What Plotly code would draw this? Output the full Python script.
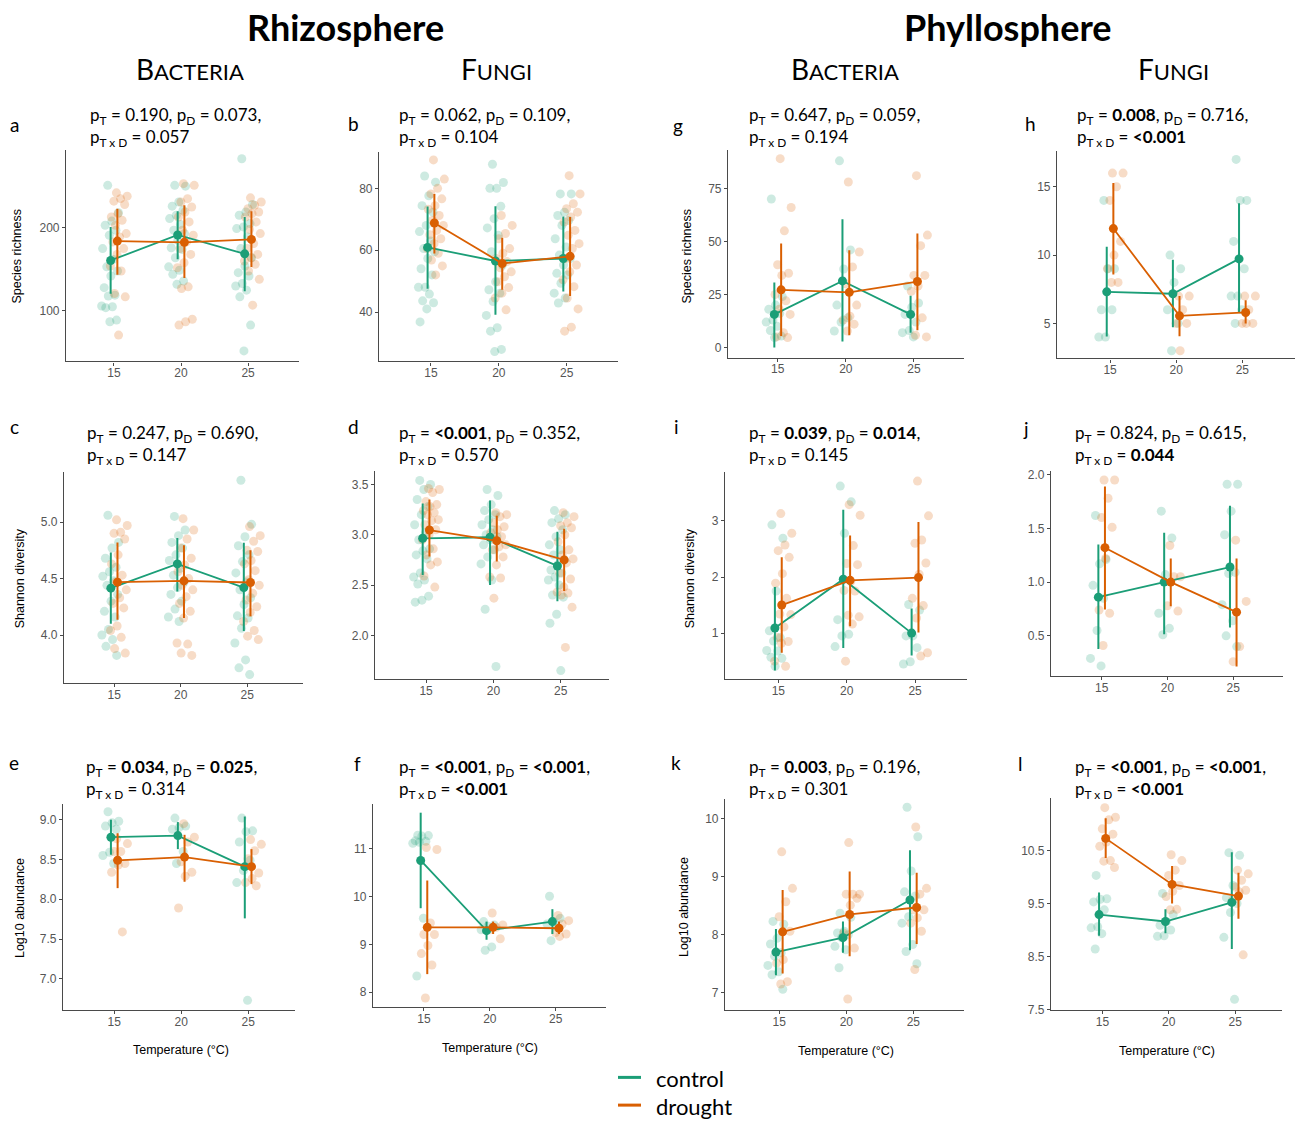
import plotly.graph_objects as go

GREEN = "#1b9e77"
ORANGE = "#d95f02"
TEMPS = [15, 20, 25]

# ---------------- Panel a: Rhizosphere bacteria, species richness
A_CTRL = [[251, 218, 208, 203, 197, 191, 175, 162, 153, 148, 142, 128, 119, 118, 106, 105, 104, 89, 87],
          [251, 250, 231, 226, 221, 215, 211, 204, 197, 193, 185, 176, 174, 164, 153, 149, 144, 136, 132],
          [283, 228, 219, 215, 205, 201, 199, 189, 175, 164, 154, 146, 142, 133, 130, 125, 117, 83, 52]]
A_DRT = [[242, 238, 235, 232, 228, 217, 213, 209, 203, 193, 189, 183, 175, 168, 154, 148, 121, 117, 71],
         [253, 251, 235, 231, 225, 219, 213, 207, 197, 191, 183, 175, 168, 158, 152, 129, 127, 90, 87, 83],
         [236, 231, 227, 223, 219, 217, 213, 207, 198, 193, 181, 175, 168, 164, 160, 156, 148, 138, 107]]
A_CTRL_MEAN = [160.7, 191.3, 168.7]
A_CTRL_LO = [120.6, 162.3, 123.8]
A_CTRL_HI = [201.0, 219.8, 213.0]
A_DRT_MEAN = [184.0, 182.5, 186.0]
A_DRT_LO = [143.6, 139.7, 152.8]
A_DRT_HI = [223.0, 227.0, 219.8]

# ---------------- Panel b: Rhizosphere fungi, species richness
B_CTRL = [[84, 82, 77.6, 74.4, 72.3, 68, 66, 63, 60.5, 59.5, 57.3, 54, 52, 48, 48, 45.8, 43.6, 43, 41, 36.8],
          [87.8, 81.9, 80, 80, 74.2, 70.2, 67.2, 64.8, 59.5, 55.2, 49.8, 47.2, 46.1, 43.4, 38.9, 34.9, 33.8, 27.9, 27.2],
          [78.2, 78.2, 72.3, 71.2, 69.6, 68, 63.7, 61, 58.4, 57.3, 55.2, 52.5, 52, 49.3, 46.1, 44.5, 42.9]]
B_DRT = [[89.2, 83, 80, 78.2, 76.6, 74.4, 73.2, 71.2, 69.6, 68, 66.4, 65, 63.7, 62.1, 60.5, 59, 56.8, 54.9, 52],
         [71.2, 68, 65.4, 63.7, 60.5, 59, 57.3, 56.3, 54.3, 53, 51.4, 49.8, 47.9, 46.1, 44.5, 40.7],
         [84.1, 78.2, 75, 73.4, 72.3, 70.7, 69.1, 66.4, 64.8, 62.1, 60.5, 57.3, 55.2, 53, 50.4, 48.2, 44.5, 41, 35.1, 33.8]]
B_CTRL_MEAN = [60.9, 56.5, 57.3]
B_CTRL_LO = [47.5, 39.1, 46.6]
B_CTRL_HI = [74.1, 74.2, 70.9]
B_DRT_MEAN = [68.8, 55.7, 58.0]
B_DRT_LO = [58.9, 47.2, 45.2]
B_DRT_HI = [78.2, 64.0, 70.7]

# ---------------- Panel g: Phyllosphere bacteria, species richness
G_CTRL = [[70, 24, 20, 18, 16, 13, 12, 10, 8, 5.4, 4.7],
          [88, 46, 37, 20, 14, 12, 7.8],
          [29, 21, 19, 15.6, 12, 8, 7, 5]]
G_DRT = [[89, 66, 55, 39, 35, 34, 25, 22, 18, 15.6, 7, 5, 4.7],
         [78, 45, 38, 30, 20, 14.8, 13, 11, 7.8],
         [81, 53, 48, 34, 34, 29, 26.5, 14, 5.8, 5]]
G_CTRL_MEAN = [15.6, 31.4, 15.6]
G_CTRL_LO = [0.0, 2.8, 7.0]
G_CTRL_HI = [30.6, 60.4, 24.4]
G_DRT_MEAN = [27.2, 26.0, 31.1]
G_DRT_LO = [5.4, 5.8, 8.1]
G_DRT_HI = [49.0, 45.9, 53.7]

# ---------------- Panel h: Phyllosphere fungi, species richness
H_CTRL = [[14, 9, 9, 6, 6, 4, 4],
          [10, 9, 8, 6, 5, 3],
          [17, 14, 14, 11, 9, 7, 7, 6, 5]]
H_DRT = [[16, 16, 15, 14, 11, 10, 9, 8, 8],
         [7, 7, 6, 5, 5, 3],
         [7, 7, 6, 5, 5, 5]]
H_CTRL_MEAN = [7.31, 7.17, 9.72]
H_CTRL_LO = [4.04, 4.71, 5.8]
H_CTRL_HI = [10.6, 9.65, 13.8]
H_DRT_MEAN = [11.94, 5.55, 5.8]
H_DRT_LO = [8.57, 4.06, 5.0]
H_DRT_HI = [15.27, 7.0, 6.7]

# ---------------- Panel c: Rhizosphere bacteria, Shannon diversity
C_CTRL = [[5.06, 4.82, 4.77, 4.68, 4.6, 4.56, 4.52, 4.48, 4.44, 4.36, 4.3, 4.21, 4.16, 4.05, 4.0, 3.96, 3.9, 3.82],
          [5.05, 4.93, 4.88, 4.82, 4.77, 4.71, 4.66, 4.59, 4.53, 4.47, 4.42, 4.36, 4.3, 4.23, 4.16, 4.12],
          [5.37, 4.98, 4.87, 4.79, 4.71, 4.65, 4.55, 4.47, 4.4, 4.33, 4.27, 4.17, 4.15, 4.06, 3.93, 3.78, 3.71, 3.65]]
C_DRT = [[5.02, 4.97, 4.91, 4.9, 4.85, 4.71, 4.63, 4.53, 4.47, 4.4, 4.33, 4.28, 4.24, 4.08, 4.04, 3.98, 3.88, 3.84],
         [5.03, 4.93, 4.85, 4.77, 4.68, 4.62, 4.56, 4.5, 4.44, 4.4, 4.34, 4.28, 4.21, 4.15, 3.93, 3.92, 3.84, 3.82],
         [4.96, 4.88, 4.83, 4.75, 4.74, 4.66, 4.63, 4.57, 4.49, 4.44, 4.37, 4.31, 4.25, 4.2, 4.12, 4.04, 3.99, 3.96]]
C_CTRL_MEAN = [4.415, 4.63, 4.42]
C_CTRL_LO = [4.10, 4.386, 4.035]
C_CTRL_HI = [4.73, 4.86, 4.816]
C_DRT_MEAN = [4.468, 4.48, 4.465]
C_DRT_LO = [4.135, 4.15, 4.167]
C_DRT_HI = [4.82, 4.795, 4.75]

# ---------------- Panel d: Rhizosphere fungi, Shannon diversity
D_CTRL = [[3.54, 3.5, 3.45, 3.35, 3.28, 3.2, 3.1, 3.02, 2.95, 2.86, 2.84, 2.8, 2.76, 2.62, 2.58, 2.55, 2.51, 2.39, 2.35, 2.33],
          [3.45, 3.39, 3.3, 3.24, 3.2, 3.15, 3.1, 3.05, 3.0, 2.98, 2.95, 2.9, 2.85, 2.78, 2.71, 2.55, 2.26, 1.69],
          [3.24, 3.2, 3.16, 3.12, 3.05, 2.98, 2.9, 2.85, 2.8, 2.75, 2.7, 2.65, 2.62, 2.58, 2.55, 2.5, 2.4, 2.38, 2.21, 2.12, 1.65]]
D_DRT = [[3.46, 3.45, 3.42, 3.33, 3.3, 3.28, 3.24, 3.22, 3.2, 3.15, 3.14, 3.1, 3.05, 3.0, 2.95, 2.86, 2.8, 2.73, 2.7, 2.59, 2.48],
         [3.22, 3.2, 3.18, 3.12, 3.08, 3.05, 3.02, 2.98, 2.95, 2.9, 2.88, 2.85, 2.78, 2.7, 2.58, 2.57, 2.37],
         [3.22, 3.18, 3.12, 3.09, 3.07, 3.0, 2.93, 2.85, 2.8, 2.76, 2.72, 2.62, 2.56, 2.48, 2.43, 2.42, 2.4, 2.28, 1.88]]
D_CTRL_MEAN = [2.965, 2.975, 2.69]
D_CTRL_LO = [2.60, 2.50, 2.34]
D_CTRL_HI = [3.31, 3.34, 3.03]
D_DRT_MEAN = [3.047, 2.94, 2.75]
D_DRT_LO = [2.785, 2.735, 2.44]
D_DRT_HI = [3.35, 3.19, 3.06]

# ---------------- Panel i: Phyllosphere bacteria, Shannon diversity
I_CTRL = [[2.93, 2.69, 1.75, 1.04, 0.92, 0.86, 0.69, 0.68, 0.57, 0.55, 0.41],
          [3.62, 3.34, 2.78, 1.24, 0.98, 0.95, 0.76],
          [1.51, 1.41, 0.95, 0.95, 0.74, 0.49, 0.45]]
I_DRT = [[3.13, 2.78, 2.57, 2.47, 2.35, 2.06, 1.89, 1.62, 1.34, 1.33, 1.11, 0.92, 0.85, 0.82, 0.5, 0.41],
         [3.29, 3.1, 2.56, 2.24, 2.22, 1.92, 1.76, 1.75, 1.32, 1.29, 1.16, 0.5],
         [3.71, 3.09, 2.66, 2.6, 2.25, 2.05, 1.62, 1.49, 1.27, 0.65, 0.59]]
I_CTRL_MEAN = [1.09, 1.96, 1.0]
I_CTRL_LO = [0.335, 0.735, 0.6]
I_CTRL_HI = [1.82, 3.2, 1.44]
I_DRT_MEAN = [1.5, 1.94, 1.99]
I_DRT_LO = [0.65, 1.12, 1.01]
I_DRT_HI = [2.35, 2.74, 2.98]

# ---------------- Panel j: Phyllosphere fungi, Shannon diversity
J_CTRL = [[1.62, 1.21, 1.17, 0.97, 0.85, 0.55, 0.29, 0.22],
          [1.66, 1.41, 1.07, 0.71, 0.57, 0.51],
          [1.91, 1.91, 1.66, 1.44, 1.09, 1.08, 0.79, 0.64, 0.5, 0.4]]
J_DRT = [[1.95, 1.95, 1.78, 1.6, 1.51, 1.22, 0.74, 0.71, 0.41],
         [1.34, 1.05, 1.05, 0.78, 0.73],
         [1.39, 0.82, 0.4, 0.26]]
J_CTRL_MEAN = [0.86, 1.0, 1.14]
J_CTRL_LO = [0.378, 0.515, 0.577]
J_CTRL_HI = [1.35, 1.46, 1.71]
J_DRT_MEAN = [1.32, 1.0, 0.72]
J_DRT_LO = [0.745, 0.775, 0.215]
J_DRT_HI = [1.89, 1.22, 1.22]

# ---------------- Panel e: Rhizosphere bacteria, log10 abundance
E_CTRL = [[9.1, 8.98, 8.96, 8.92, 8.88, 8.59, 8.55, 8.45],
          [9.02, 8.92, 8.9, 8.88, 8.6, 8.45],
          [9.02, 8.86, 8.85, 8.72, 8.49, 8.36, 8.21, 6.73]]
E_DRT = [[8.76, 8.7, 8.6, 8.6, 8.45, 8.43, 8.34, 7.59],
         [8.95, 8.78, 8.72, 8.47, 8.34, 8.29, 7.89],
         [8.75, 8.69, 8.61, 8.51, 8.33, 8.26, 8.21, 8.17]]
E_CTRL_MEAN = [8.78, 8.8, 8.41]
E_CTRL_LO = [8.56, 8.63, 7.76]
E_CTRL_HI = [9.0, 8.97, 9.04]
E_DRT_MEAN = [8.49, 8.53, 8.41]
E_DRT_LO = [8.14, 8.22, 8.19]
E_DRT_HI = [8.83, 8.81, 8.63]

# ---------------- Panel f: Rhizosphere fungi, log10 abundance
F_CTRL = [[11.29, 11.28, 11.27, 11.17, 11.16, 11.14, 11.12, 9.55, 8.34],
          [9.48, 9.41, 9.38, 9.31, 8.95, 8.88],
          [10.01, 9.55, 9.48, 9.43, 9.36, 9.08]]
F_DRT = [[11.03, 10.99, 9.45, 9.21, 9.21, 8.98, 8.81, 8.57, 7.88],
         [9.66, 9.41, 9.36, 9.31, 9.12],
         [9.61, 9.5, 9.43, 9.25, 9.22, 9.17]]
F_CTRL_MEAN = [10.76, 9.29, 9.48]
F_CTRL_LO = [9.76, 9.1, 9.22]
F_CTRL_HI = [11.76, 9.48, 9.74]
F_DRT_MEAN = [9.36, 9.36, 9.34]
F_DRT_LO = [8.38, 9.22, 9.22]
F_DRT_HI = [10.34, 9.48, 9.48]

# ---------------- Panel k: Phyllosphere bacteria, log10 abundance
K_CTRL = [[8.23, 8.18, 7.94, 7.84, 7.69, 7.63, 7.47, 7.36, 7.31, 7.06],
          [8.37, 8.3, 8.06, 8.03, 8.0, 7.95, 7.8, 7.74, 7.43],
          [10.2, 9.69, 9.1, 8.74, 8.67, 8.31, 8.2, 7.83, 7.71, 7.5]]
K_DRT = [[9.43, 8.8, 8.57, 8.31, 8.06, 7.57, 7.51, 7.19, 7.15],
         [9.59, 8.7, 8.7, 8.7, 8.63, 8.51, 8.03, 7.77, 6.89],
         [9.86, 8.8, 8.7, 8.43, 8.43, 8.29, 8.2, 8.06, 7.4]]
K_CTRL_MEAN = [7.7, 7.95, 8.6]
K_CTRL_LO = [7.3, 7.69, 7.73]
K_CTRL_HI = [8.1, 8.23, 9.46]
K_DRT_MEAN = [8.05, 8.35, 8.47]
K_DRT_LO = [7.33, 7.63, 7.84]
K_DRT_HI = [8.77, 9.09, 9.07]

# ---------------- Panel l: Phyllosphere fungi, log10 abundance
L_CTRL = [[10.03, 9.59, 9.58, 9.53, 9.38, 9.06, 9.04, 8.93, 8.64],
          [9.69, 9.29, 9.16, 9.09, 9.0, 8.89, 8.88],
          [10.46, 10.41, 9.84, 9.61, 9.5, 9.33, 8.86, 7.69]]
L_DRT = [[11.31, 11.13, 11.08, 10.91, 10.81, 10.66, 10.58, 10.31, 10.3, 10.18],
         [10.42, 10.31, 10.13, 10.03, 9.84, 9.73, 9.63, 9.39, 9.38],
         [10.13, 10.06, 9.94, 9.81, 9.75, 9.72, 9.56, 8.53]]
L_CTRL_MEAN = [9.29, 9.16, 9.52]
L_CTRL_LO = [8.89, 8.94, 8.64]
L_CTRL_HI = [9.71, 9.39, 10.47]
L_DRT_MEAN = [10.73, 9.86, 9.64]
L_DRT_LO = [10.36, 9.5, 9.21]
L_DRT_HI = [11.11, 10.21, 10.08]

# p-value texts (p_T, p_D, p_TxD)
P_TEXT = {
    "a": ("0.190", "0.073", "0.057"),
    "b": ("0.062", "0.109", "0.104"),
    "g": ("0.647", "0.059", "0.194"),
    "h": ("<b>0.008</b>", "0.716", "<b>&lt;0.001</b>"),
    "c": ("0.247", "0.690", "0.147"),
    "d": ("<b>&lt;0.001</b>", "0.352", "0.570"),
    "i": ("<b>0.039</b>", "<b>0.014</b>", "0.145"),
    "j": ("0.824", "0.615", "<b>0.044</b>"),
    "e": ("<b>0.034</b>", "<b>0.025</b>", "0.314"),
    "f": ("<b>&lt;0.001</b>", "<b>&lt;0.001</b>", "<b>&lt;0.001</b>"),
    "k": ("<b>0.003</b>", "0.196", "0.301"),
    "l": ("<b>&lt;0.001</b>", "<b>&lt;0.001</b>", "<b>&lt;0.001</b>"),
}

W, H = 1296, 1124

# layout geometry (pixels): plot box, x range, y range, ticks
PANELS = [
    dict(k="a", d=(A_CTRL, A_DRT, A_CTRL_MEAN, A_CTRL_LO, A_CTRL_HI, A_DRT_MEAN, A_DRT_LO, A_DRT_HI),
         box=(66, 299, 147, 361), xr=(11.42, 28.8), yr=(39.3, 294), yt=[100, 200], fmt="d",
         let=(14, 122), ptxt=(88, 113, 135), ytitle=("Species richness", 17, 255)),
    dict(k="b", d=(B_CTRL, B_DRT, B_CTRL_MEAN, B_CTRL_LO, B_CTRL_HI, B_DRT_MEAN, B_DRT_LO, B_DRT_HI),
         box=(379, 618, 149, 361), xr=(11.17, 28.78), yr=(24, 91.9), yt=[40, 60, 80], fmt="d",
         let=(353, 121), ptxt=(397, 113, 135), ytitle=None),
    dict(k="g", d=(G_CTRL, G_DRT, G_CTRL_MEAN, G_CTRL_LO, G_CTRL_HI, G_DRT_MEAN, G_DRT_LO, G_DRT_HI),
         box=(728, 964, 147, 357), xr=(11.35, 28.67), yr=(-4.7, 93.3), yt=[0, 25, 50, 75], fmt="d",
         let=(678, 123), ptxt=(747, 113, 135), ytitle=("Species richness", 687, 255)),
    dict(k="h", d=(H_CTRL, H_DRT, H_CTRL_MEAN, H_CTRL_LO, H_CTRL_HI, H_DRT_MEAN, H_DRT_LO, H_DRT_HI),
         box=(1057, 1295, 148, 358), xr=(10.99, 28.98), yr=(2.43, 17.65), yt=[5, 10, 15], fmt="d",
         let=(1030, 121), ptxt=(1075, 113, 135), ytitle=None),
    dict(k="c", d=(C_CTRL, C_DRT, C_CTRL_MEAN, C_CTRL_LO, C_CTRL_HI, C_DRT_MEAN, C_DRT_LO, C_DRT_HI),
         box=(64, 303, 473, 686), xr=(11.23, 29.2), yr=(3.573, 5.44), yt=[4.0, 4.5, 5.0], fmt=".1f",
         let=(14, 427), ptxt=(85, 434, 456), ytitle=("Shannon diversity", 20, 580)),
    dict(k="d", d=(D_CTRL, D_DRT, D_CTRL_MEAN, D_CTRL_LO, D_CTRL_HI, D_DRT_MEAN, D_DRT_LO, D_DRT_HI),
         box=(375, 609, 472, 682), xr=(11.21, 28.58), yr=(1.563, 3.63), yt=[2.0, 2.5, 3.0, 3.5], fmt=".1f",
         let=(353, 427), ptxt=(397, 434, 456), ytitle=None),
    dict(k="i", d=(I_CTRL, I_DRT, I_CTRL_MEAN, I_CTRL_LO, I_CTRL_HI, I_DRT_MEAN, I_DRT_LO, I_DRT_HI),
         box=(725, 967, 473, 682), xr=(11.1, 28.8), yr=(0.176, 3.865), yt=[1, 2, 3], fmt="d",
         let=(676, 427), ptxt=(747, 434, 456), ytitle=("Shannon diversity", 690, 580)),
    dict(k="j", d=(J_CTRL, J_DRT, J_CTRL_MEAN, J_CTRL_LO, J_CTRL_HI, J_DRT_MEAN, J_DRT_LO, J_DRT_HI),
         box=(1051, 1283, 472, 679), xr=(11.15, 28.78), yr=(0.123, 2.03), yt=[0.5, 1.0, 1.5, 2.0], fmt=".1f",
         let=(1026, 429), ptxt=(1073, 434, 456), ytitle=None),
    dict(k="e", d=(E_CTRL, E_DRT, E_CTRL_MEAN, E_CTRL_LO, E_CTRL_HI, E_DRT_MEAN, E_DRT_LO, E_DRT_HI),
         box=(63, 295, 808, 1016), xr=(11.17, 28.5), yr=(6.608, 9.196), yt=[7.0, 7.5, 8.0, 8.5, 9.0], fmt=".1f",
         let=(14, 766), ptxt=(84, 772, 794), ytitle=("Log10 abundance", 20, 913), xtitle=(181, 1056)),
    dict(k="f", d=(F_CTRL, F_DRT, F_CTRL_MEAN, F_CTRL_LO, F_CTRL_HI, F_DRT_MEAN, F_DRT_LO, F_DRT_HI),
         box=(373, 606, 808, 1013), xr=(11.13, 28.82), yr=(7.69, 11.94), yt=[8, 9, 10, 11], fmt="d",
         let=(357, 767), ptxt=(397, 772, 794), ytitle=None, xtitle=(490, 1054)),
    dict(k="k", d=(K_CTRL, K_DRT, K_CTRL_MEAN, K_CTRL_LO, K_CTRL_HI, K_DRT_MEAN, K_DRT_LO, K_DRT_HI),
         box=(725, 964, 803, 1016), xr=(10.95, 28.78), yr=(6.70, 10.34), yt=[7, 8, 9, 10], fmt="d",
         let=(676, 766), ptxt=(747, 772, 794), ytitle=("Log10 abundance", 684, 912), xtitle=(846, 1057)),
    dict(k="l", d=(L_CTRL, L_DRT, L_CTRL_MEAN, L_CTRL_LO, L_CTRL_HI, L_DRT_MEAN, L_DRT_LO, L_DRT_HI),
         box=(1051, 1282, 802, 1016), xr=(11.13, 28.53), yr=(7.487, 11.49), yt=[7.5, 8.5, 9.5, 10.5], fmt=".1f",
         let=(1020, 767), ptxt=(1073, 772, 794), ytitle=None, xtitle=(1167, 1057)),
]

TXT_FONT = "Lato, Open Sans, sans-serif"
TICK_FONT = "Liberation Sans, Arial, sans-serif"


def px(x):
    return x / W


def py(y):
    return 1 - y / H


def jitter(n, center, width):
    return [center + (((k * 0.6180339887 + 0.37) % 1.0) - 0.5) * width for k in range(n)]


fig = go.Figure()
layout = dict(width=W, height=H, margin=dict(l=0, r=0, t=0, b=0),
              paper_bgcolor="white", plot_bgcolor="white", showlegend=False)
annotations = []
shapes = []

for idx, p in enumerate(PANELS):
    n = idx + 1
    xa = "x" if n == 1 else f"x{n}"
    ya = "y" if n == 1 else f"y{n}"
    ctrl, drt, cm, clo, chi, dm, dlo, dhi = p["d"]
    # jittered raw points
    for grp, col, dodge in ((ctrl, GREEN, -0.3), (drt, ORANGE, 0.35)):
        xs, ys = [], []
        for t, vals in zip(TEMPS, grp):
            xs += jitter(len(vals), t + dodge, 1.3)
            ys += vals
        fig.add_trace(go.Scatter(x=xs, y=ys, mode="markers", xaxis=xa, yaxis=ya,
                                 marker=dict(size=9, color=col, opacity=0.22, line=dict(width=0)),
                                 hoverinfo="skip"))
    # means with error bars
    for mean, lo, hi, col, dodge in ((cm, clo, chi, GREEN, -0.25), (dm, dlo, dhi, ORANGE, 0.25)):
        fig.add_trace(go.Scatter(
            x=[t + dodge for t in TEMPS], y=mean, mode="lines+markers", xaxis=xa, yaxis=ya,
            line=dict(color=col, width=1.8),
            marker=dict(size=9, color=col),
            error_y=dict(type="data", symmetric=False,
                         array=[h - m for h, m in zip(hi, mean)],
                         arrayminus=[m - l for m, l in zip(mean, lo)],
                         color=col, thickness=2, width=0)))
    x0, x1, y0, y1 = p["box"]
    axcommon = dict(showline=True, linecolor="#4a4a4a", linewidth=1.2, ticks="outside", ticklen=3,
                    tickcolor="#4a4a4a", tickfont=dict(family=TICK_FONT, size=12, color="#555555"),
                    showgrid=False, zeroline=False)
    layout["xaxis" if n == 1 else f"xaxis{n}"] = dict(
        axcommon, domain=[px(x0), px(x1)], range=list(p["xr"]), tickvals=TEMPS,
        anchor=ya, ticklabelstandoff=-3)
    layout["yaxis" if n == 1 else f"yaxis{n}"] = dict(
        axcommon, domain=[py(y1), py(y0)], range=list(p["yr"]), tickvals=p["yt"],
        tickformat=p["fmt"], anchor=xa)
    # panel letter
    lx, ly = p["let"]
    annotations.append(dict(x=px(lx), y=py(ly), xref="paper", yref="paper", text=p["k"],
                            showarrow=False, xanchor="center", yanchor="middle",
                            font=dict(family=TXT_FONT, size=19, color="black")))
    # p-values
    pt, pd_, ptd = P_TEXT[p["k"]]
    tx, l1, l2 = p["ptxt"]
    annotations.append(dict(x=px(tx), y=py(l1), xref="paper", yref="paper",
                            text=f"p<sub>T</sub> = {pt}, p<sub>D</sub> = {pd_},",
                            showarrow=False, xanchor="left", yanchor="middle",
                            font=dict(family=TXT_FONT, size=17, color="black")))
    annotations.append(dict(x=px(tx), y=py(l2), xref="paper", yref="paper",
                            text=f"p<sub>T x D</sub> = {ptd}",
                            showarrow=False, xanchor="left", yanchor="middle",
                            font=dict(family=TXT_FONT, size=17, color="black")))
    if p.get("ytitle"):
        t, yx, yy = p["ytitle"]
        annotations.append(dict(x=px(yx), y=py(yy), xref="paper", yref="paper", text=t,
                                textangle=-90, showarrow=False, xanchor="center", yanchor="middle",
                                font=dict(family=TICK_FONT, size=12.5, color="black")))
    if p.get("xtitle"):
        xx, xy = p["xtitle"]
        annotations.append(dict(x=px(xx), y=py(xy), xref="paper", yref="paper",
                                text="Temperature (°C)", showarrow=False,
                                xanchor="center", yanchor="middle",
                                font=dict(family=TICK_FONT, size=12.5, color="black")))

# headers
for txt, cx in (("Rhizosphere", 345), ("Phyllosphere", 1008)):
    annotations.append(dict(x=px(cx), y=py(23), xref="paper", yref="paper", text=f"<b>{txt}</b>",
                            showarrow=False, xanchor="center", yanchor="middle",
                            font=dict(family=TXT_FONT, size=36, color="black")))


def smallcaps(word):
    return (f"<span style='font-size:28px'>{word[0]}</span>"
            f"<span style='font-size:22px'>{word[1:]}</span>")


for word, cx in (("BACTERIA", 190), ("FUNGI", 496), ("BACTERIA", 845), ("FUNGI", 1173)):
    annotations.append(dict(x=px(cx), y=py(66), xref="paper", yref="paper", text=smallcaps(word),
                            showarrow=False, xanchor="center", yanchor="middle",
                            font=dict(family=TXT_FONT, size=28, color="black")))

# legend
for lab, col, yy in (("control", GREEN, 1084), ("drought", ORANGE, 1112)):
    shapes.append(dict(type="line", xref="paper", yref="paper", x0=px(618), x1=px(641),
                       y0=py(yy), y1=py(yy), line=dict(color=col, width=3)))
    annotations.append(dict(x=px(654), y=py(yy + 1), xref="paper", yref="paper", text=lab,
                            showarrow=False, xanchor="left", yanchor="middle",
                            font=dict(family=TXT_FONT, size=22, color="black")))

layout["annotations"] = annotations
layout["shapes"] = shapes
fig.update_layout(**layout)
fig.write_html("out.html")
